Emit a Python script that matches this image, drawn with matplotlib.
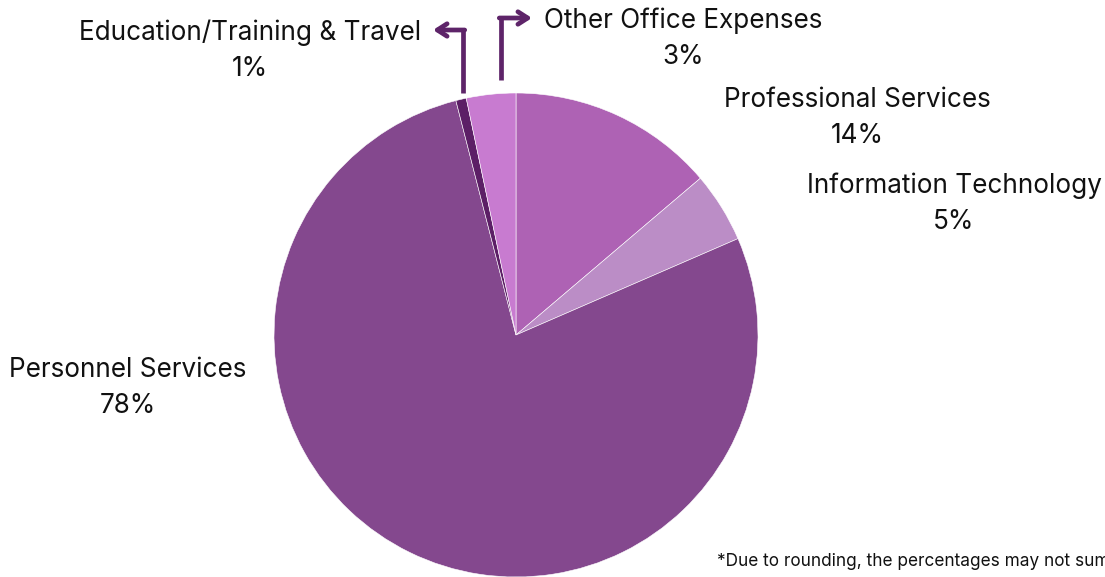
import matplotlib
matplotlib.use("Agg")
import matplotlib.pyplot as plt

# Expense categories, in clockwise order starting at 12 o'clock
categories = [
    "Professional Services",
    "Information Technology",
    "Personnel Services",
    "Education/Training & Travel",
    "Other Office Expenses",
]
shares = [13.8, 4.7, 77.6, 0.7, 3.3]
colors = ["#AE62B4", "#BB8DC6", "#84488E", "#5C1F66", "#C87BD0"]
arrow_color = "#5E2469"

W, H = 1105, 577
plt.rcParams["font.family"] = ["Inter", "DejaVu Sans"]

fig = plt.figure(figsize=(W / 100, H / 100), dpi=100)
ax = fig.add_axes([0, 0, 1, 1])

cx, cy, r = 516, H - 335, 242
ax.pie(shares, colors=colors, startangle=90, counterclock=False,
       center=(cx, cy), radius=r, frame=True,
       wedgeprops=dict(edgecolor="white", linewidth=0.4))
ax.set_xlim(0, W)
ax.set_ylim(0, H)
ax.set_aspect("equal")
ax.axis("off")

labels = [f"{c}\n{round(v):.0f}%" for c, v in zip(categories, shares)]
positions = [(857, 118), (954, 204), (128, 388), (250, 51), (683, 39)]
for text, (x, y) in zip(labels, positions):
    ax.text(x, H - y, text, ha="center", va="center", fontsize=18.8,
            color="#111111", linespacing=1.5, multialignment="center")

# Leader arrows for the two thin slices
head = "->,head_length=0.7,head_width=0.45"
ax.plot([463, 463], [H - 93, H - 30], color=arrow_color, lw=3.4,
        solid_capstyle="butt")
ax.annotate("", xy=(433, H - 30), xytext=(464.7, H - 30),
            arrowprops=dict(arrowstyle=head, color=arrow_color, lw=3.4,
                            shrinkA=0, shrinkB=0))
ax.plot([501, 501], [H - 80, H - 18], color=arrow_color, lw=3.4,
        solid_capstyle="butt")
ax.annotate("", xy=(532, H - 18), xytext=(499.3, H - 18),
            arrowprops=dict(arrowstyle=head, color=arrow_color, lw=3.4,
                            shrinkA=0, shrinkB=0))

ax.text(717, H - 561, "*Due to rounding, the percentages may not sum to 100%",
        ha="left", va="center", fontsize=12.4, color="#111111")

fig.savefig("out.png", dpi=100)
